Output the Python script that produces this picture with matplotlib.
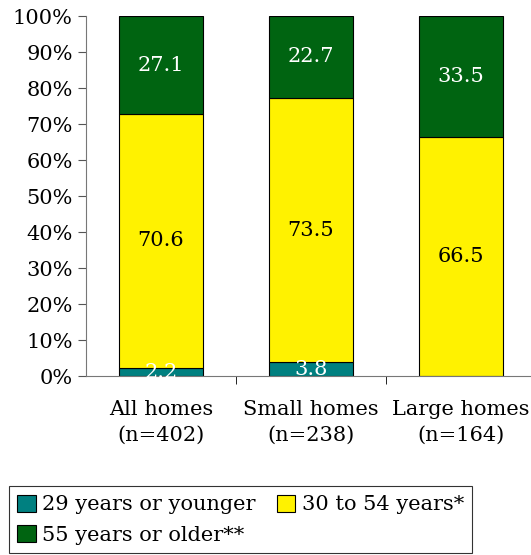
import numpy as np
import matplotlib.pyplot as plt

# data
categories = ['All homes\n(n=402)', 'Small homes\n(n=238)', 'Large homes\n(n=164)']
young = [2.2, 3.8, 0.0]
middle = [70.6, 73.5, 66.5]
older = [27.1, 22.7, 33.5]
series_names = ['29 years or younger', '30 to 54 years*', '55 years or older**']
colors = ['#008080', '#FFF200', '#006411']
text_colors = ['white', 'black', 'white']

plt.rcParams['font.family'] = ['DejaVu Serif']
fs = 15

fig = plt.figure(figsize=(5.31, 5.55), dpi=100)
ax = fig.add_axes([86/531, (555-376)/555, 450/531, 360/555])

x = np.arange(len(categories))
bottom = np.zeros(len(categories))
handles = []
for vals, col, tc, name in zip([young, middle, older], colors, text_colors, series_names):
    vals = np.array(vals)
    b = ax.bar(x, vals, 0.56, bottom=bottom, color=col, edgecolor='black', linewidth=0.8, label=name)
    handles.append(b)
    for xi, v, bo in zip(x, vals, bottom):
        if v > 0:
            ax.text(xi, bo + v / 2, f'{v:.1f}', ha='center', va='center', color=tc, fontsize=fs)
    bottom += vals

ax.set_xlim(-0.5, 2.5)
ax.set_ylim(0, 100)
ax.set_yticks(np.arange(0, 101, 10))
ax.set_yticklabels([f'{v}%' for v in range(0, 101, 10)], fontsize=fs)
ax.set_xticks(x)
ax.set_xticklabels(categories, fontsize=fs, linespacing=1.45)
ax.tick_params(axis='x', length=0, pad=17)
ax.set_xticks([0.5, 1.5, 2.5], minor=True)
ax.tick_params(axis='x', which='minor', length=6, direction='out', color='black')
ax.tick_params(axis='y', length=6, direction='out', color='#555555')
for s in ['top', 'right']:
    ax.spines[s].set_visible(False)
for s in ['left', 'bottom']:
    ax.spines[s].set_color('#777777')

# order so rows read: teal, yellow / dark green
leg_handles = [handles[0], handles[2], handles[1]]
leg = fig.legend(handles=leg_handles, loc='lower left', bbox_to_anchor=(9/531, 2/555),
                 ncol=2, fontsize=fs, frameon=True, fancybox=False, edgecolor='black',
                 handlelength=0.9, handleheight=0.9, handletextpad=0.3, columnspacing=1.0,
                 borderpad=0.4, labelspacing=0.5, borderaxespad=0)
leg.get_frame().set_linewidth(0.8)

fig.savefig('out.png', dpi=100)
